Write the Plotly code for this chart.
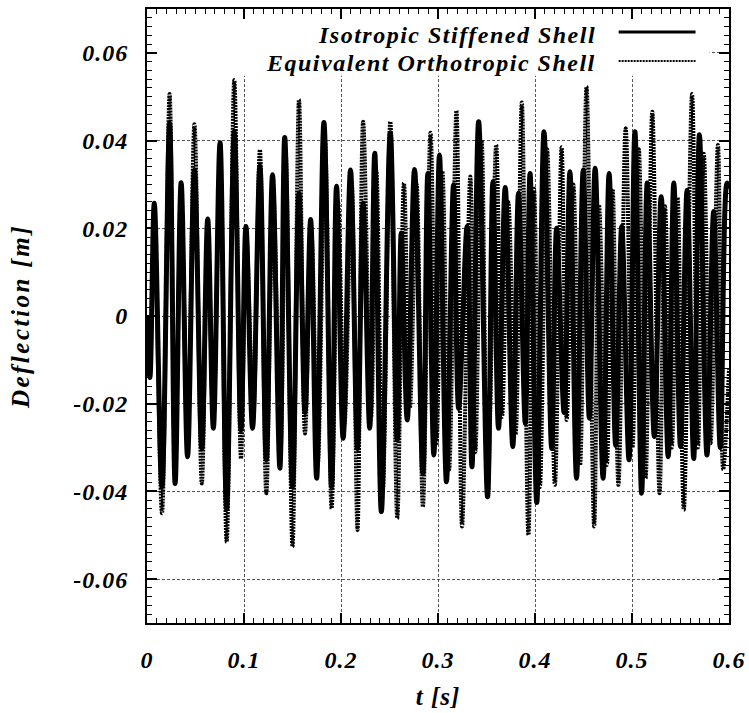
import plotly.graph_objects as go

# ---------------- data ----------------
series_names = ["Isotropic Stiffened Shell", "Equivalent Orthotropic Shell"]

# Isotropic stiffened shell: time [s] of successive extrema and deflection [m]
t_iso = [0.0000, 0.0030, 0.0075, 0.0154, 0.0233, 0.0290, 0.0352, 0.0418, 0.0489, 0.0565,
         0.0626, 0.0684, 0.0753, 0.0821, 0.0900, 0.0969, 0.1020, 0.1088, 0.1164, 0.1230,
         0.1294, 0.1370, 0.1420, 0.1500, 0.1567, 0.1629, 0.1687, 0.1749, 0.1824, 0.1903,
         0.1954, 0.2022, 0.2098, 0.2170, 0.2228, 0.2296, 0.2348, 0.2416, 0.2508, 0.2580,
         0.2621, 0.2683, 0.2758, 0.2844, 0.2895, 0.2957, 0.3015, 0.3087, 0.3160, 0.3213,
         0.3300, 0.3350, 0.3419, 0.3511, 0.3566, 0.3624, 0.3693, 0.3771, 0.3830, 0.3900,
         0.3949, 0.4018, 0.4093, 0.4172, 0.4223, 0.4300, 0.4360, 0.4428, 0.4497, 0.4560,
         0.4620, 0.4702, 0.4764, 0.4832, 0.4894, 0.4969, 0.5030, 0.5099, 0.5157, 0.5230,
         0.5301, 0.5373, 0.5431, 0.5500, 0.5568, 0.5636, 0.5695, 0.5773, 0.5842, 0.5910,
         0.5979, 0.6000]
v_iso = [0.0, -0.0140, 0.0257, -0.0389, 0.0439, -0.0382, 0.0304, -0.0321, 0.0333, -0.0302,
         0.0221, -0.0256, 0.0395, -0.0440, 0.0420, -0.0260, 0.0204, -0.0256, 0.0342, -0.0328,
         0.0322, -0.0347, 0.0407, -0.0390, 0.0280, -0.0220, 0.0220, -0.0370, 0.0441, -0.0389,
         0.0296, -0.0279, 0.0333, -0.0302, 0.0257, -0.0256, 0.0371, -0.0446, 0.0418, -0.0283,
         0.0189, -0.0237, 0.0334, -0.0359, 0.0325, -0.0317, 0.0367, -0.0378, 0.0299, -0.0211,
         0.0204, -0.0344, 0.0443, -0.0412, 0.0306, -0.0256, 0.0293, -0.0298, 0.0280, -0.0245,
         0.0325, -0.0425, 0.0420, -0.0302, 0.0200, -0.0220, 0.0329, -0.0370, 0.0333, -0.0233,
         0.0337, -0.0370, 0.0325, -0.0295, 0.0204, -0.0328, 0.0420, -0.0404, 0.0303, -0.0275,
         0.0272, -0.0321, 0.0303, -0.0298, 0.0287, -0.0325, 0.0413, -0.0317, 0.0238, -0.0300,
         0.0303, 0.0290]

# Equivalent orthotropic shell
t_ort = [0.0000, 0.0030, 0.0075, 0.0154, 0.0233, 0.0290, 0.0352, 0.0418, 0.0489, 0.0565,
         0.0626, 0.0684, 0.0753, 0.0821, 0.0900, 0.0969, 0.1025, 0.1095, 0.1164, 0.1230,
         0.1300, 0.1375, 0.1430, 0.1500, 0.1567, 0.1629, 0.1695, 0.1760, 0.1835, 0.1903,
         0.1970, 0.2035, 0.2110, 0.2170, 0.2228, 0.2310, 0.2365, 0.2430, 0.2508, 0.2580,
         0.2649, 0.2710, 0.2780, 0.2844, 0.2923, 0.2985, 0.3045, 0.3115, 0.3190, 0.3248,
         0.3333, 0.3385, 0.3450, 0.3511, 0.3600, 0.3660, 0.3725, 0.3800, 0.3864, 0.3932,
         0.3990, 0.4050, 0.4125, 0.4205, 0.4274, 0.4326, 0.4395, 0.4465, 0.4531, 0.4610,
         0.4660, 0.4740, 0.4800, 0.4860, 0.4935, 0.5005, 0.5070, 0.5140, 0.5209, 0.5284,
         0.5340, 0.5410, 0.5470, 0.5534, 0.5619, 0.5680, 0.5740, 0.5810, 0.5886, 0.5940,
         0.6000]
v_ort = [0.0, -0.0100, 0.0200, -0.0450, 0.0506, -0.0350, 0.0270, -0.0290, 0.0437, -0.0382,
         0.0190, -0.0230, 0.0360, -0.0515, 0.0538, -0.0325, 0.0180, -0.0230, 0.0379, -0.0404,
         0.0290, -0.0320, 0.0370, -0.0526, 0.0493, -0.0268, 0.0190, -0.0340, 0.0400, -0.0439,
         0.0260, -0.0250, 0.0300, -0.0488, 0.0443, -0.0230, 0.0330, -0.0400, 0.0443, -0.0461,
         0.0303, -0.0210, 0.0300, -0.0435, 0.0418, -0.0290, 0.0330, -0.0350, 0.0468, -0.0480,
         0.0318, -0.0310, 0.0400, -0.0412, 0.0390, -0.0230, 0.0260, -0.0270, 0.0487, -0.0499,
         0.0290, -0.0390, 0.0380, -0.0385, 0.0385, -0.0237, 0.0300, -0.0340, 0.0523, -0.0480,
         0.0253, -0.0340, 0.0290, -0.0385, 0.0428, -0.0300, 0.0380, -0.0370, 0.0466, -0.0404,
         0.0250, -0.0300, 0.0270, -0.0442, 0.0506, -0.0300, 0.0370, -0.0290, 0.0390, -0.0350,
         -0.0120]

x_tickvals = [0, 0.1, 0.2, 0.3, 0.4, 0.5, 0.6]
x_ticktext = ["0", "0.1", "0.2", "0.3", "0.4", "0.5", "0.6"]
y_tickvals = [-0.06, -0.04, -0.02, 0, 0.02, 0.04, 0.06]
y_ticktext = ["-0.06", "-0.04", "-0.02", "0", "0.02", "0.04", "0.06"]


def spaced(s, px):
    return '<span style="letter-spacing:%spx">%s</span>' % (px, s)


# ---------------- figure ----------------
FONT = "Liberation Serif, 'Times New Roman', Times, serif"
bi = dict(family=FONT, color="black", weight="bold", style="italic")

fig = go.Figure()
fig.add_trace(go.Scatter(
    x=t_iso, y=v_iso, mode="lines", name=series_names[0], showlegend=False,
    line=dict(color="black", width=5, shape="spline", smoothing=1.0)))
fig.add_trace(go.Scatter(
    x=t_ort, y=v_ort, mode="lines", name=series_names[1], showlegend=False,
    line=dict(color="black", width=4, dash="2px,1px", shape="spline", smoothing=1.0)))

axis_common = dict(
    showline=True, linecolor="black", linewidth=2, mirror="allticks",
    ticks="inside", ticklen=10, tickwidth=1.5, tickcolor="black",
    showgrid=True, gridcolor="#555555", gridwidth=1, griddash="3px,2px",
    zeroline=False, tickfont=dict(size=24, **bi),
)

fig.update_xaxes(
    range=[0, 0.6], tickmode="array", tickvals=x_tickvals,
    ticktext=[spaced(s, 1) for s in x_ticktext],
    minor=dict(ticks="inside", ticklen=5, dtick=0.01, tickcolor="black", tickwidth=1, showgrid=False),
    ticklabelstandoff=14,
    title=dict(text=spaced("t [s]", 1), font=dict(size=25, **bi), standoff=16),
    **axis_common)
fig.update_yaxes(
    range=[-0.07, 0.07], tickmode="array", tickvals=y_tickvals,
    ticktext=[spaced(s, 1) for s in y_ticktext],
    minor=dict(ticks="inside", ticklen=5, dtick=0.002, tickcolor="black", tickwidth=1, showgrid=False),
    ticklabelstandoff=12,
    title=dict(text=spaced("Deflection [m]", 2.5), font=dict(size=25, **bi), standoff=36),
    **axis_common)

# white legend box hiding the grid at the top
fig.add_shape(type="rect", xref="x", yref="y", x0=0, x1=0.58, y0=0.0548, y1=0.07,
              fillcolor="white", line=dict(width=0), layer="between")

# legend: text on the left, line sample on the right
leg_y = [0.9577, 0.912]
line_y = [0.9625, 0.9153]
for i, name in enumerate(series_names):
    fig.add_annotation(xref="paper", yref="paper", x=0.7744, y=leg_y[i],
                       xanchor="right", yanchor="middle", showarrow=False,
                       text=spaced(name, 1.5), font=dict(size=24, **bi))
fig.add_shape(type="line", xref="paper", yref="paper", x0=0.8104, x1=0.9425,
              y0=line_y[0], y1=line_y[0], line=dict(color="black", width=3))
fig.add_shape(type="line", xref="paper", yref="paper", x0=0.8104, x1=0.9425,
              y0=line_y[1], y1=line_y[1], line=dict(color="black", width=2, dash="2px,1px"))

fig.update_layout(
    width=749, height=713,
    margin=dict(l=147, r=20, t=9, b=90, autoexpand=False),
    paper_bgcolor="white", plot_bgcolor="white",
    font=dict(family=FONT, color="black"),
    showlegend=False,
)

fig.write_html("out.html", config={"displayModeBar": False},
               post_script="document.body.style.margin='0px';")
